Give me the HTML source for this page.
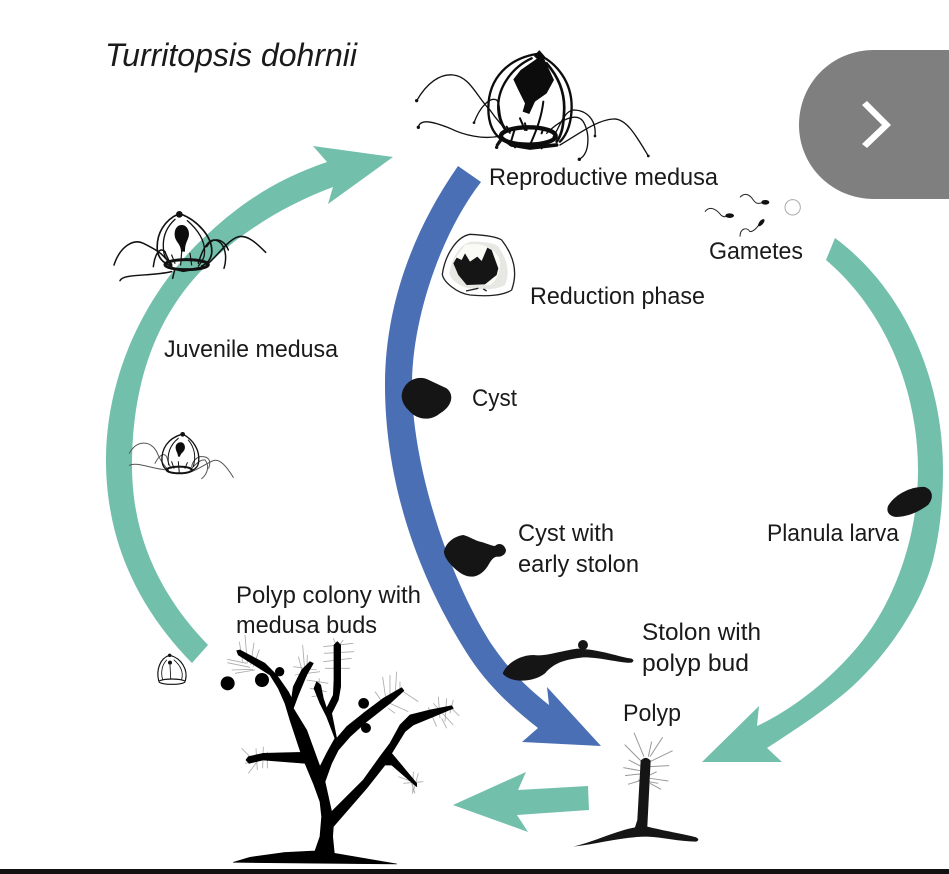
<!DOCTYPE html>
<html>
<head>
<meta charset="utf-8">
<style>
html,body{margin:0;padding:0;background:#fff;width:949px;height:874px;overflow:hidden}
svg{display:block}
text{font-family:"Liberation Sans",sans-serif;font-size:24px;fill:#1a1a1a}
</style>
</head>
<body>
<svg width="949" height="874" viewBox="0 0 949 874" xmlns="http://www.w3.org/2000/svg">
<rect width="949" height="874" fill="#fff"/>

<!-- arcs -->
<path fill="#72bfab" d="M192,663L208,645C155,590 132,530 132,465C132,385 155,320 200,272C240,232 285,205 333,187L328,204L393,157L313,146L327,162C280,178 245,200 210,232C150,285 106,370 106,460C106,530 130,600 192,663Z"/>
<path fill="#72bfab" d="M835,238C905,290 943,380 943,470C943,510 938,540 933,560C920,610 880,665 840,697C815,717 790,733 767,748L782,762L702,762L759,706L757,726C800,706 840,670 863,640C890,605 918,545 918,470C918,390 885,310 826,260Z"/>
<path fill="#72bfab" d="M588,786L589,810L517,815L528,832L453,805L526,772L518,790Z"/>
<path fill="#4a6fb5" d="M458,166C410,235 385,310 385,385C385,450 400,550 470,658C490,688 515,710 538,728L522,742L601,746L547,687L549,705C530,690 510,672 490,642C445,570 412,460 412,385C412,320 440,235 481,182Z"/>

<!-- button -->
<path fill="#7f7f7f" d="M949,50L874,50C832,50 799,83 799,125C799,166 832,199 874,199L949,199Z"/>
<polygon fill="#fff" points="862,105 867,101 891,125 867,148 862,144 882,125"/>

<!-- big medusa -->
<g transform="translate(400,30) scale(.3333)">
  <g fill="none" stroke="#111" stroke-width="4" stroke-linecap="round">
    <path d="M50,212C80,160 120,130 160,135C210,140 230,200 270,240C290,270 310,290 330,310"/>
    <path d="M222,278C240,230 270,200 290,210C305,225 290,260 320,300"/>
    <path d="M55,292C60,265 100,275 150,295C190,315 250,330 300,318"/>
    <path d="M290,352L310,325"/>
    <path d="M538,388C570,370 570,310 550,275C530,245 480,270 440,310"/>
    <path d="M585,318C590,270 560,240 520,240C490,245 480,290 460,320"/>
    <path d="M745,378C710,320 680,265 640,267C590,270 540,310 480,345"/>
  </g>
  <g fill="#111"><circle cx="50" cy="212" r="5"/><circle cx="222" cy="278" r="4"/><circle cx="55" cy="292" r="5"/><circle cx="290" cy="352" r="5"/><circle cx="538" cy="388" r="5"/><circle cx="585" cy="318" r="4"/><circle cx="745" cy="378" r="4"/></g>
  <g fill="none" stroke="#0c0c0c" stroke-linecap="round">
    <path d="M410,72C330,85 265,140 265,235C265,275 275,305 300,325" stroke-width="7"/>
    <path d="M418,75C470,100 515,155 515,230C515,270 505,310 480,335" stroke-width="7"/>
    <path d="M395,85C340,110 290,170 295,240C297,270 308,290 320,305" stroke-width="7"/>
    <path d="M440,100C475,140 497,190 492,250C490,290 485,315 470,335" stroke-width="8"/>
    <path d="M430,215C425,260 410,300 390,345M360,265L375,300M330,345L345,295" stroke-width="6"/>
    <ellipse cx="385" cy="318" rx="82" ry="26" stroke-width="13"/>
    <path d="M300,320L335,345L390,354L470,345" stroke-width="11"/>
    <path d="M320,290L330,305M375,280L380,300M430,295L425,310M350,340L345,352M420,345L425,355M300,330L290,345" stroke-width="6"/>
    <path d="M418,62L403,78L418,92L434,80Z" fill="#0c0c0c" stroke-width="2"/>
    <path d="M340,148L362,120L412,85L432,85L462,150L440,190L405,215L388,252L368,245L375,220L355,180Z" fill="#0c0c0c" stroke="none"/>
  </g>
</g>

<!-- juvenile 1 -->
<g transform="translate(100,190) scale(.3333)">
  <g fill="none" stroke="#111" stroke-width="4.5" stroke-linecap="round">
    <path d="M42,225C60,170 100,145 130,160C170,180 190,190 215,230"/>
    <path d="M60,272C70,250 150,260 215,245"/>
    <path d="M160,230C165,190 180,170 195,185C200,200 205,210 215,225"/>
    <path d="M218,265L225,235"/>
    <path d="M372,235C385,190 370,150 340,150C320,155 305,185 295,220"/>
    <path d="M385,180C375,150 340,135 320,170"/>
    <path d="M497,187C470,160 440,130 410,142C380,155 350,200 320,225"/>
    <path d="M235,72C195,90 168,130 172,180C175,205 190,220 215,228" stroke-width="5"/>
    <path d="M242,72C290,90 340,140 335,190C332,210 320,222 305,228" stroke-width="5"/>
    <path d="M225,88C195,115 185,150 192,190C195,205 205,215 215,222" stroke-width="4"/>
    <path d="M262,92C300,125 320,160 312,200C308,212 300,222 295,228" stroke-width="4"/>
    <path d="M245,185L242,225M270,190L275,225M215,195L225,220" stroke-width="3.5"/>
    <ellipse cx="260" cy="224" rx="65" ry="15" stroke-width="9"/>
    <path d="M205,232L250,243L310,232" stroke-width="7"/>
  </g>
  <circle cx="238" cy="73" r="10" fill="#111"/>
  <path fill="#0c0c0c" d="M245,105C262,105 270,125 266,140C262,155 255,160 255,185L243,185C243,165 232,160 226,145C220,125 228,105 245,105Z"/>
</g>

<!-- juvenile 2 -->
<g transform="translate(100,190) scale(.3333)">
  <g fill="none" stroke="#555" stroke-width="3" stroke-linecap="round">
    <path d="M88,790C110,750 150,750 170,785C180,810 195,830 205,840"/>
    <path d="M88,826C110,815 150,835 200,840"/>
    <path d="M165,820C175,800 190,785 200,800C205,815 205,825 215,835"/>
    <path d="M326,835C335,810 325,798 300,800C285,805 278,815 275,830"/>
    <path d="M305,866C325,850 328,825 315,810C300,808 285,825 270,840"/>
    <path d="M400,862C380,830 360,805 340,812C320,820 300,835 275,845"/>
  </g>
  <g fill="none" stroke="#111" stroke-linecap="round">
    <path d="M245,733C205,745 183,775 186,815C188,830 195,838 205,842" stroke-width="4"/>
    <path d="M250,733C280,750 300,780 296,815C295,830 285,838 275,842" stroke-width="4"/>
    <path d="M235,745C210,765 200,790 206,825" stroke-width="3"/>
    <path d="M265,750C285,775 288,800 280,830" stroke-width="3"/>
    <path d="M235,815L238,850M215,815L222,835M262,818L255,835" stroke-width="3"/>
    <ellipse cx="238" cy="840" rx="38" ry="10" stroke-width="6"/>
  </g>
  <circle cx="248" cy="733" r="7" fill="#111"/>
  <path fill="#0c0c0c" d="M242,757C252,757 257,768 254,778C250,788 242,790 240,800L234,800C234,790 228,785 227,775C226,765 232,757 242,757Z"/>
</g>

<!-- small medusa -->
<g transform="translate(150,620) scale(.3333)" fill="none" stroke="#111" stroke-linecap="round">
  <path d="M58,106C30,115 18,150 26,182" stroke-width="3.5"/>
  <path d="M60,106C95,115 115,150 106,182" stroke-width="3.5"/>
  <path d="M50,120C35,135 32,160 38,178M72,120C95,140 100,160 95,178" stroke-width="2.5"/>
  <path d="M60,135L62,175" stroke-width="2.5"/>
  <ellipse cx="66" cy="185" rx="39" ry="8" stroke-width="3.5"/>
  <circle cx="60" cy="128" r="6" fill="#111" stroke="none"/>
  <circle cx="59" cy="106" r="5" fill="#111" stroke="none"/>
</g>

<!-- reduction phase and cyst -->
<g transform="translate(390,225) scale(.3333)">
  <path d="M157,148C165,90 200,35 240,28C280,30 320,35 335,45C370,90 385,140 365,195C340,212 290,215 240,210C200,205 160,170 157,148Z" fill="#fff" stroke="#222" stroke-width="4"/>
  <path d="M178,145C185,100 210,55 245,50C285,50 315,55 325,65C350,100 362,140 345,180C320,195 280,195 240,190C205,185 180,160 178,145Z" fill="#e7e8e3"/>
  <path d="M225,60C270,50 310,65 328,100C335,130 325,165 300,180L230,180L205,150L195,100Z" fill="#fbfbf5"/>
  <path d="M190,115L200,98L215,105L225,85L240,110L262,95L275,108L292,68L305,75L325,130L320,150L285,178L230,180L205,150Z" fill="#151515"/>
  <path d="M228,198L265,190M280,192L290,198" stroke="#222" stroke-width="4" fill="none"/>
  <path d="M35,510C40,470 80,450 110,462L170,490C195,510 185,545 150,565C120,590 80,585 55,555C40,540 35,525 35,510Z" fill="#151515"/>
</g>
<!-- early stolon cyst -->
<g transform="translate(380,420) scale(.3333)">
  <path fill="#151515" d="M192,395C195,375 215,350 250,345C270,350 285,362 300,365C320,370 335,378 345,378C355,368 372,370 378,390C378,405 362,412 350,410C340,412 335,420 328,430C315,455 295,470 275,470C250,470 225,450 205,425C198,415 192,405 192,395Z"/>
</g>
<!-- planula -->
<path fill="#151515" d="M888,506C895,494 912,486 925,487C933,490 934,498 928,505C920,511 908,517 896,517C889,516 886,512 888,506Z"/>

<!-- gametes -->
<g transform="translate(690,40) scale(.3333)" fill="none" stroke="#222" stroke-width="3">
  <path d="M150,472C165,455 180,465 190,480C200,495 210,490 220,487"/>
  <path d="M45,515C60,495 80,510 90,522C100,535 110,530 115,527"/>
  <path d="M150,590C150,565 170,560 180,575C190,575 200,565 210,550"/>
  <ellipse cx="226" cy="487" rx="12" ry="7" fill="#111" stroke="none"/>
  <ellipse cx="119" cy="527" rx="13" ry="7" fill="#111" stroke="none"/>
  <ellipse cx="214" cy="548" rx="13" ry="6" fill="#111" stroke="none" transform="rotate(-50 214 548)"/>
  <circle cx="308" cy="502" r="23" stroke="#aaa" stroke-width="3"/>
</g>

<!-- stolon with polyp bud and polyp -->
<g transform="translate(490,620) scale(.3333)">
  <path fill="#151515" d="M38,160C50,130 90,105 130,105C170,110 200,95 262,86C330,88 390,112 425,116Q436,122 425,128C390,130 340,112 280,112C230,118 195,125 165,160C130,188 60,190 38,160Z"/>
  <circle cx="279" cy="75" r="15" fill="#151515"/>
  <g stroke="#999" stroke-width="3" fill="none">
    <path d="M432,338L462,410M404,374L455,425M475,410L485,365M480,410L518,352M480,425L548,392M416,420L455,440M480,440L538,437M400,443L450,452M480,465L500,455M405,467L450,462M480,475L535,483M414,493L450,482M480,490L513,508M445,480L505,490"/>
  </g>
  <path fill="#151515" d="M250,680C320,662 380,632 435,622L442,600L452,422Q467,405 482,422L472,620C520,632 580,642 618,652Q632,660 618,665C570,665 520,652 470,650C400,650 320,672 250,680Z"/>
</g>

<!-- tree -->
<g transform="translate(150,620) scale(.3333)">
  <g stroke="#aaa" stroke-width="2.5" fill="none">
    <path d="M268,65L278,125M285,45L292,130M312,68L302,135M328,88L310,140M232,118L290,130M232,128L300,142M245,150L310,148M255,160L315,150"/>
    <path d="M458,75L465,160M445,110L460,165M472,105L470,170M430,140L500,150M435,165L510,155M470,180L535,190M480,205L530,215M485,230L520,225M508,175L505,235"/>
    <path d="M550,55L565,90M580,60L560,85M520,80L610,70M522,100L612,95M520,125L605,115M525,145L600,145"/>
    <path d="M698,170L710,255M720,165L720,245M740,155L735,235M750,185L750,225M675,215L700,250M760,215L805,245M720,250L775,275M715,265L735,280"/>
    <path d="M835,262L860,320M865,230L870,295M890,235L885,305M910,240L900,280M850,250L910,315M875,295L890,325M905,265L928,288"/>
    <path d="M275,385L310,420M285,430L330,420M295,460L325,420M318,385L322,450M340,380L338,445M352,395L352,445"/>
    <path d="M745,470L800,490M775,460L795,520M790,455L788,522M805,460L790,515M760,490L820,485"/>
  </g>
  <path fill="#000" stroke="#000" stroke-width="2" stroke-linejoin="round" d="M250,727L300,712L400,698L495,693L510,650L515,590L510,545L490,490L465,430L340,420L297,430L288,420L295,410L340,400L452,397L420,300L405,250L385,205L360,165L265,105L260,92L270,90L345,130L380,165L415,215L425,235L430,200L455,150L480,125L490,130L470,165L445,225L430,265L470,330L510,440L530,400L555,355L530,290L510,250L492,205L500,185L512,195L520,235L530,265L550,225L552,180L552,75L562,65L572,75L572,200L565,240L545,280L560,355L590,320L640,280L700,235L755,203L762,212L720,250L650,305L600,350L565,390L545,430L525,485L545,575L640,480L690,410L720,370L750,315L780,285L840,270L905,257L910,265L850,290L790,315L765,335L725,400L800,490L800,500L725,435L705,435L650,505L550,620L548,650L553,700L740,732Z"/>
  <g fill="#000">
    <circle cx="233" cy="190" r="21"/><circle cx="336" cy="180" r="21"/><circle cx="389" cy="155" r="14"/><circle cx="641" cy="250" r="16"/><circle cx="648" cy="324" r="15"/>
  </g>
</g>

<!-- labels -->
<text x="105" y="66" font-style="italic" style="font-size:32px" textLength="252" lengthAdjust="spacingAndGlyphs">Turritopsis dohrnii</text>
<text x="489" y="185" textLength="229" lengthAdjust="spacingAndGlyphs">Reproductive medusa</text>
<text x="709" y="259" textLength="94" lengthAdjust="spacingAndGlyphs">Gametes</text>
<text x="530" y="304" textLength="175" lengthAdjust="spacingAndGlyphs">Reduction phase</text>
<text x="164" y="357" textLength="174" lengthAdjust="spacingAndGlyphs">Juvenile medusa</text>
<text x="472" y="406" textLength="45" lengthAdjust="spacingAndGlyphs">Cyst</text>
<text x="518" y="541" textLength="96" lengthAdjust="spacingAndGlyphs">Cyst with</text>
<text x="518" y="572" textLength="121" lengthAdjust="spacingAndGlyphs">early stolon</text>
<text x="767" y="541" textLength="132" lengthAdjust="spacingAndGlyphs">Planula larva</text>
<text x="236" y="603" textLength="185" lengthAdjust="spacingAndGlyphs">Polyp colony with</text>
<text x="236" y="633" textLength="141" lengthAdjust="spacingAndGlyphs">medusa buds</text>
<text x="642" y="640" textLength="119" lengthAdjust="spacingAndGlyphs">Stolon with</text>
<text x="642" y="671" textLength="107" lengthAdjust="spacingAndGlyphs">polyp bud</text>
<text x="623" y="721" textLength="58" lengthAdjust="spacingAndGlyphs">Polyp</text>

<!-- bottom bar -->
<rect x="0" y="869" width="949" height="5" fill="#111"/>
</svg>
</body>
</html>
